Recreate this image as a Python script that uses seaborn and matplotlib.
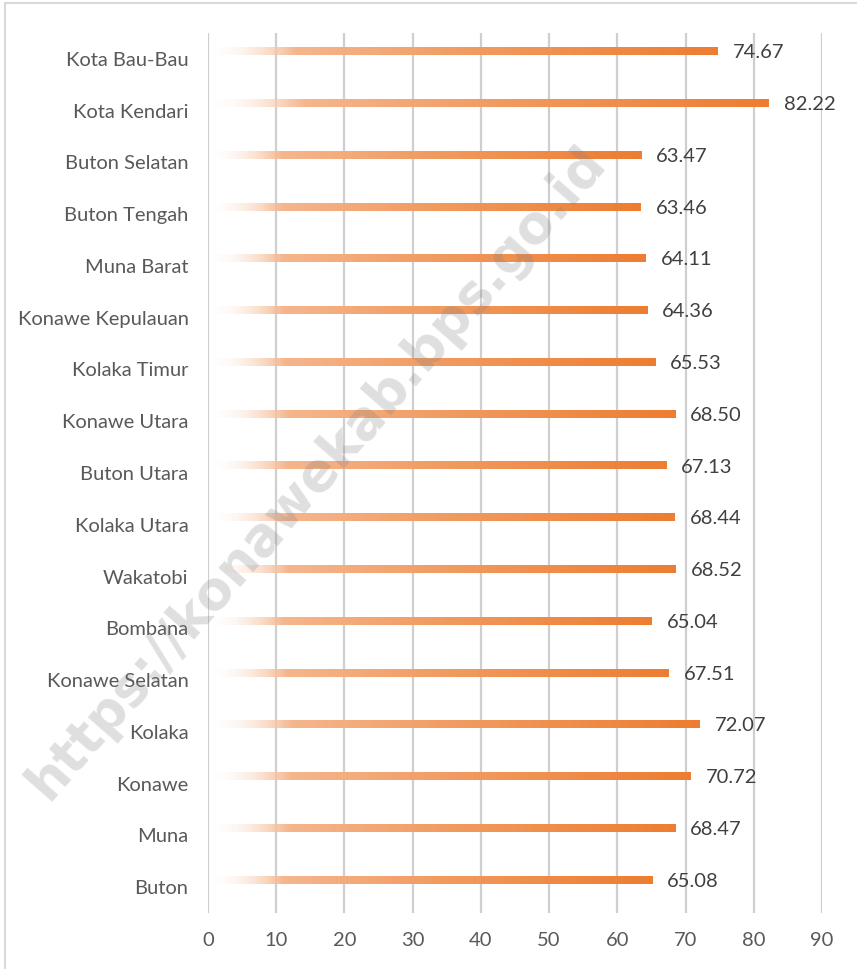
import numpy as np
import pandas as pd
import matplotlib
matplotlib.use("Agg")
import matplotlib.pyplot as plt
import seaborn as sns
from matplotlib.colors import to_rgb
from matplotlib.lines import Line2D

regions = ["Kota Bau-Bau", "Kota Kendari", "Buton Selatan", "Buton Tengah", "Muna Barat",
           "Konawe Kepulauan", "Kolaka Timur", "Konawe Utara", "Buton Utara", "Kolaka Utara",
           "Wakatobi", "Bombana", "Konawe Selatan", "Kolaka", "Konawe", "Muna", "Buton"]
values = [74.67, 82.22, 63.47, 63.46, 64.11, 64.36, 65.53, 68.50, 67.13, 68.44,
          68.52, 65.04, 67.51, 72.07, 70.72, 68.47, 65.08]
x_ticks = [0, 10, 20, 30, 40, 50, 60, 70, 80, 90]

sns.set_theme(style="white")
plt.rcParams['font.family'] = ['Lato', 'DejaVu Sans']

df = pd.DataFrame({"region": regions, "value": values})

fig = plt.figure(figsize=(8.57, 9.69), dpi=100)
ax = fig.add_axes([0.2427, 0.0578, 0.7165, 0.9082])

sns.barplot(data=df, y="region", x="value", orient="h", width=0.155,
            color="#ED7D31", ax=ax, zorder=3)

# gradient fill
stops = [(0.0, "#FFFFFF", 0.0), (0.17, "#F5B68D", 1.0), (0.5, "#F19C62", 1.0), (1.0, "#ED7D31", 1.0)]
N = 256
pos = np.linspace(0, 1, N)
grad = np.zeros((1, N, 4))
sp = [s[0] for s in stops]
for c in range(3):
    grad[0, :, c] = np.interp(pos, sp, [to_rgb(s[1])[c] for s in stops])
grad[0, :, 3] = np.interp(pos, sp, [s[2] for s in stops])

offset = -0.145
for p, v in zip(ax.patches, values):
    p.set_y(p.get_y() + offset)
    x0, y0, w, h = p.get_x(), p.get_y(), p.get_width(), p.get_height()
    p.set_facecolor("none")
    p.set_edgecolor("none")
    im = ax.imshow(grad, extent=[x0, x0 + w, y0 + h, y0], aspect="auto",
                   interpolation="bilinear", zorder=3)
    im.set_clip_path(p)
    ax.text(x0 + w + 2.2, y0 + h / 2 + 0.03, f"{v:.2f}", va="center", ha="left",
            fontsize=14.5, color="#404040", zorder=4)

ax.set_xlim(0, 90)
ax.set_ylim(len(regions) - 0.5, -0.5)
ax.set_xticks(x_ticks)
ax.set_xticklabels([str(t) for t in x_ticks])
ax.set_xlabel("")
ax.set_ylabel("")
ax.grid(axis="x", color="#CFCFCF", linewidth=1.6, zorder=0)
ax.grid(axis="y", visible=False)
ax.set_axisbelow(True)
for s in ax.spines.values():
    s.set_visible(False)
ax.tick_params(axis="both", length=0, labelsize=14.5, labelcolor="#595959")
ax.tick_params(axis="y", pad=14)
ax.tick_params(axis="x", pad=14)

# figure border
fig.add_artist(Line2D([5 / 857, 1], [1 - 3 / 969, 1 - 3 / 969], transform=fig.transFigure,
                      color="#D9D9D9", linewidth=1.5))
fig.add_artist(Line2D([5 / 857, 5 / 857], [0, 1 - 3 / 969], transform=fig.transFigure,
                      color="#D9D9D9", linewidth=1.5))

# watermark
fig.text(0.37, 0.512, "https://konawekab.bps.go.id", rotation=48.8, ha="center", va="center",
         fontsize=38, fontweight="bold", color="#808080", alpha=0.25, zorder=10,
         family=["DejaVu Sans"], rotation_mode="anchor")

fig.savefig("out.png", dpi=100)
